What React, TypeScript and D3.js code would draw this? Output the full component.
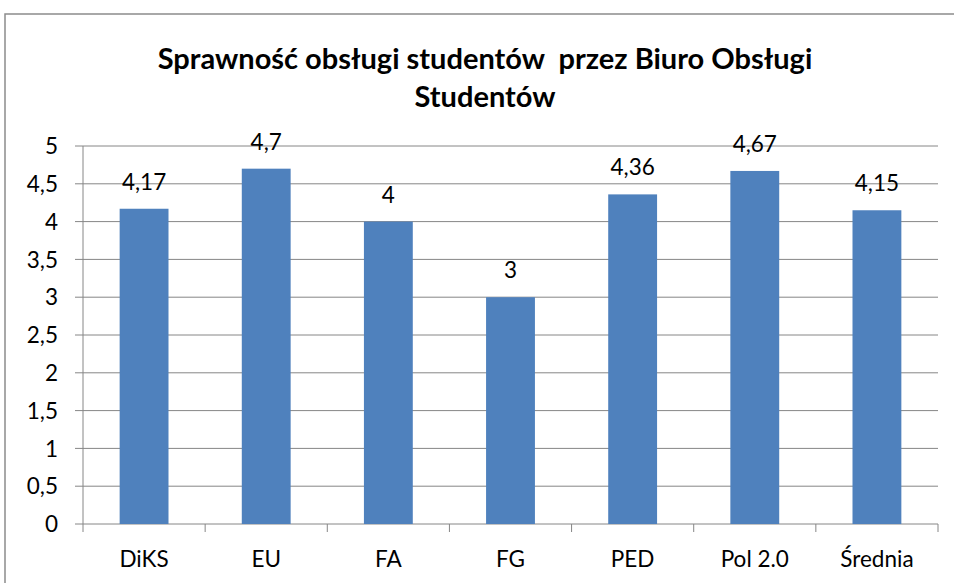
import * as d3 from 'd3';
import React from 'react';

const categories = ['DiKS', 'EU', 'FA', 'FG', 'PED', 'Pol 2.0', 'Średnia'];
const values = [4.17, 4.7, 4, 3, 4.36, 4.67, 4.15];
const yTicks = [0, 0.5, 1, 1.5, 2, 2.5, 3, 3.5, 4, 4.5, 5];
const titleLines = ['Sprawność obsługi studentów  przez Biuro Obsługi', 'Studentów'];

const fmt = (v: number) => String(v).replace('.', ',');

const App = () => {
  const width = 954;
  const height = 583;
  const plot = { left: 83, right: 938, top: 146, bottom: 524 };

  const x = d3.scaleBand<string>()
    .domain(categories)
    .range([plot.left, plot.right])
    .paddingInner(0.6)
    .paddingOuter(0.3);
  const band = d3.scaleBand<string>().domain(categories).range([plot.left, plot.right]);
  const y = d3.scaleLinear().domain([0, 5]).range([plot.bottom, plot.top]);

  const font = 'Lato, "Open Sans", sans-serif';
  const grid = '#868686';
  const labelSize = 22.5;

  return (
    <svg width={width} height={height} style={{ position: 'absolute', left: 0, top: 0 }} fontFamily={font}>
      <rect x={0} y={0} width={width} height={height} fill="#fff" />
      <rect x={5} y={14} width={width + 20} height={height + 20} fill="none" stroke="#8c8c8c" strokeWidth={1.5} />

      {titleLines.map((t, i) => (
        <text key={i} x={485} y={69 + i * 38} textAnchor="middle" fontSize={29} fontWeight="bold" fill="#000" style={{ whiteSpace: 'pre' }}>
          {t}
        </text>
      ))}

      {yTicks.map(t => (
        <g key={t}>
          <line x1={plot.left - 8} x2={plot.right} y1={y(t)} y2={y(t)} stroke={grid} strokeWidth={1} />
          <text x={58} y={y(t)} dy="0.36em" textAnchor="end" fontSize={labelSize} fill="#000">{fmt(t)}</text>
        </g>
      ))}

      <line x1={plot.left} x2={plot.left} y1={plot.top} y2={plot.bottom + 8} stroke={grid} />
      {categories.map(c => (
        <line key={c} x1={(band(c) as number) + band.bandwidth()} x2={(band(c) as number) + band.bandwidth()} y1={plot.bottom} y2={plot.bottom + 8} stroke={grid} />
      ))}

      {categories.map((c, i) => (
        <g key={c}>
          <rect x={x(c)} y={y(values[i])} width={x.bandwidth()} height={y(0) - y(values[i])} fill="#4F81BD" />
          <text x={(x(c) as number) + x.bandwidth() / 2} y={y(values[i]) - 19} textAnchor="middle" fontSize={labelSize} fill="#000">
            {fmt(values[i])}
          </text>
          <text x={(band(c) as number) + band.bandwidth() / 2} y={567} textAnchor="middle" fontSize={labelSize} fill="#000">
            {c}
          </text>
        </g>
      ))}
    </svg>
  );
};

export default App;
